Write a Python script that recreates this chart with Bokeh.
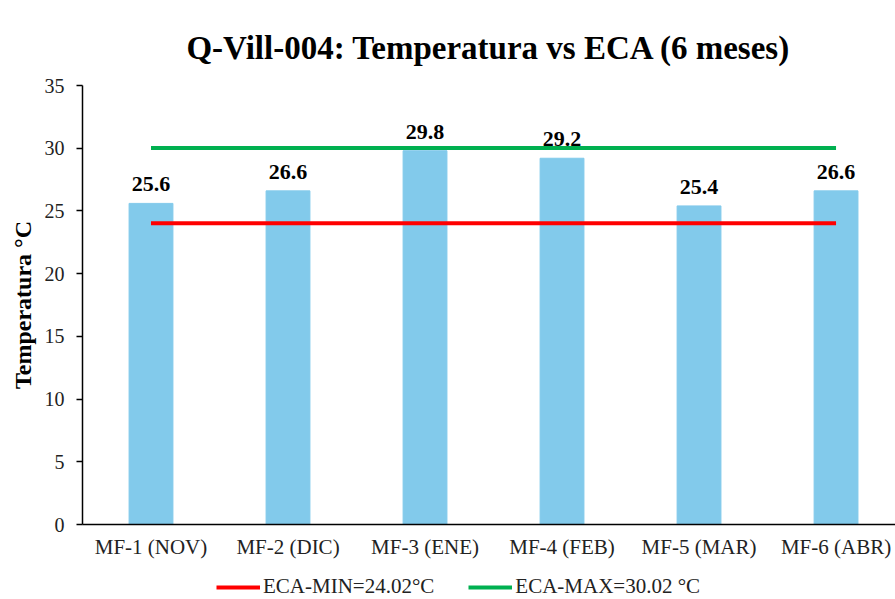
from bokeh.plotting import figure
from bokeh.layouts import column
from bokeh.models import ColumnDataSource, Range1d, Legend, LegendItem, FixedTicker, LabelSet
from bokeh.embed import file_html
from bokeh.resources import INLINE

categories = ["MF-1 (NOV)", "MF-2 (DIC)", "MF-3 (ENE)", "MF-4 (FEB)", "MF-5 (MAR)", "MF-6 (ABR)"]
temperatura = [25.6, 26.6, 29.8, 29.2, 25.4, 26.6]
eca_min = 24.02
eca_max = 30.02
y_ticks = [0, 5, 10, 15, 20, 25, 30, 35]
legend_labels = ["ECA-MIN=24.02°C", "ECA-MAX=30.02 °C"]

FONT = "Liberation Serif"
RED = "#FF0000"
GREEN = "#00B050"

xs = list(range(len(categories)))
src = ColumnDataSource(dict(x=xs, top=temperatura, lbl=[f"{v:.1f}" for v in temperatura]))
min_src = ColumnDataSource(dict(x=[xs[0], xs[-1]], y=[eca_min, eca_min]))
max_src = ColumnDataSource(dict(x=[xs[0], xs[-1]], y=[eca_max, eca_max]))

p = figure(width=895, height=565, output_backend="svg", toolbar_location=None,
           x_range=Range1d(-0.5, 5.434), y_range=Range1d(0, 35),
           min_border_left=82, min_border_right=0, min_border_top=85, min_border_bottom=41)

p.title.text = "Q-Vill-004: Temperatura vs ECA (6 meses)"
p.title.text_font = FONT
p.title.text_font_size = "33px"
p.title.text_font_style = "bold"
p.title.text_color = "black"
p.title.align = "center"
p.title.offset = 8
p.title.standoff = 40

p.vbar(x="x", top="top", width=0.32, source=src, color="#82CAEB")

p.line(x="x", y="y", source=min_src, line_color=RED, line_width=4)
p.line(x="x", y="y", source=max_src, line_color=GREEN, line_width=4)

labels = LabelSet(x="x", y="top", text="lbl", source=src, y_offset=12,
                  text_align="center", text_baseline="bottom",
                  text_font=FONT, text_font_size="22px", text_font_style="bold", text_color="black")
p.add_layout(labels)

p.xgrid.visible = False
p.ygrid.visible = False
p.outline_line_color = None

p.yaxis.ticker = FixedTicker(ticks=y_ticks)
p.yaxis.axis_label = "Temperatura °C"
p.yaxis.axis_label_text_font = FONT
p.yaxis.axis_label_text_font_size = "24px"
p.yaxis.axis_label_text_font_style = "bold"
p.yaxis.axis_label_text_color = "black"
p.yaxis.axis_label_standoff = 6
p.yaxis.major_label_text_font = FONT
p.yaxis.major_label_text_font_size = "20px"
p.yaxis.major_label_text_color = "#222222"
p.yaxis.major_tick_out = 6
p.yaxis.major_tick_in = 0
p.yaxis.minor_tick_out = 0
p.yaxis.minor_tick_in = 0
p.yaxis.major_label_standoff = 12
p.yaxis.axis_line_width = 1.5
p.yaxis.axis_line_color = "black"
p.yaxis.major_tick_line_width = 1.5
p.yaxis.major_tick_line_color = "black"

p.xaxis.ticker = FixedTicker(ticks=xs)
p.xaxis.major_label_overrides = {i: c for i, c in enumerate(categories)}
p.xaxis.major_label_text_font = FONT
p.xaxis.major_label_text_font_size = "21px"
p.xaxis.major_label_text_color = "#222222"
p.xaxis.major_tick_out = 0
p.xaxis.major_tick_in = 0
p.xaxis.minor_tick_out = 0
p.xaxis.minor_tick_in = 0
p.xaxis.major_label_standoff = 10
p.xaxis.axis_line_width = 1.5
p.xaxis.axis_line_color = "black"

# legend strip below the chart (its lines lie outside its own visible range)
lf = figure(width=895, height=34, output_backend="svg", toolbar_location=None,
            x_range=Range1d(0, 1), y_range=Range1d(0, 1),
            x_axis_type=None, y_axis_type=None,
            min_border_left=0, min_border_right=0, min_border_top=0, min_border_bottom=0)
lf.xgrid.visible = False
lf.ygrid.visible = False
lf.outline_line_color = None
l_min = lf.line(x="x", y="y", source=min_src, line_color=RED, line_width=4)
l_max = lf.line(x="x", y="y", source=max_src, line_color=GREEN, line_width=4)

legend = Legend(items=[LegendItem(label=legend_labels[0], renderers=[l_min]),
                       LegendItem(label=legend_labels[1], renderers=[l_max])],
                orientation="horizontal", location=(134, 0),
                label_text_font=FONT, label_text_font_size="21px", label_text_color="#222222",
                glyph_width=44, label_standoff=3, spacing=34, padding=0, margin=0,
                border_line_color=None, background_fill_alpha=0)
lf.add_layout(legend, "center")

layout = column(p, lf, spacing=0)
open("out.html", "w").write(file_html(layout, INLINE))
